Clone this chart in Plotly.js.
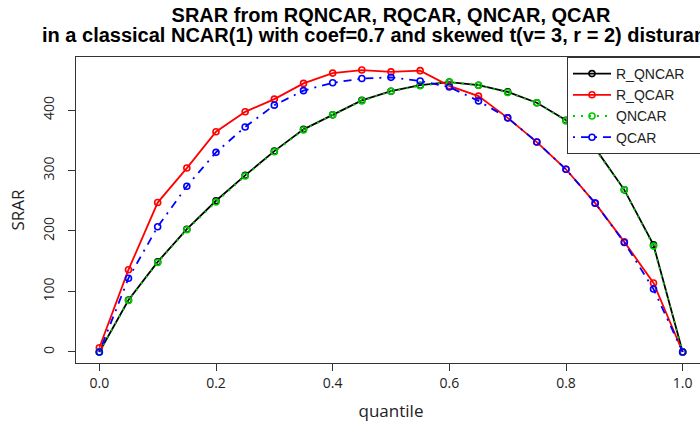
<!DOCTYPE html>
<html>
<head>
<meta charset="utf-8">
<script src="https://cdn.plot.ly/plotly-3.0.1.min.js"></script>
<style>
  html, body { margin: 0; padding: 0; background: #ffffff; overflow: hidden; }
  #chart { width: 770px; height: 423px; }
</style>
</head>
<body>
<div id="chart"></div>
<script>
// Quantile levels at which the SRAR of each estimator is evaluated
const quantile = [0, 0.05, 0.1, 0.15, 0.2, 0.25, 0.3, 0.35, 0.4, 0.45, 0.5,
                  0.55, 0.6, 0.65, 0.7, 0.75, 0.8, 0.85, 0.9, 0.95, 1];

// SRAR per estimator
const srarRQNCAR = [0, 86, 149, 203, 250, 292, 332, 368, 392, 416, 431,
                    441, 446, 441, 430, 412, 383, 337, 268, 177, 0];
const srarRQCAR  = [7, 136, 247, 304, 364, 397, 418, 444, 461, 466, 463,
                    465, 440, 423, 387, 347, 302, 246, 182, 114, 0];
const srarQNCAR  = [0, 85, 148, 202, 248, 291, 331, 367, 392, 415, 431,
                    440, 446, 441, 429, 412, 382, 335, 268, 175, 0];
const srarQCAR   = [0, 122, 207, 274, 330, 372, 408, 432, 445, 452, 454,
                    448, 438, 415, 387, 347, 302, 246, 181, 104, 0];

const seriesNames = ['R_QNCAR', 'R_QCAR', 'QNCAR', 'QCAR'];

// Two-line main title (second line runs past the right edge of the page)
const titleMain = 'SRAR from RQNCAR, RQCAR, QNCAR, QCAR';
const titleSub = 'in a classical NCAR(1) with coef=0.7 and skewed t(v= 3, r = 2) disturances';

// Trailing no-break spaces widen the legend box so it runs past the page edge
const legendPad = '\u00a0'.repeat(6);

function series(name, y, color, dash) {
  return {
    type: 'scatter',
    mode: 'lines+markers',
    name: name + legendPad,
    x: quantile,
    y: y,
    line: { color: color, width: 1.8, dash: dash },
    marker: { symbol: 'circle-open', size: 6, color: color, line: { color: color, width: 1.6 } }
  };
}

const traces = [
  series(seriesNames[0], srarRQNCAR, '#000000', 'solid'),
  series(seriesNames[1], srarRQCAR, '#ff0000', 'solid'),
  series(seriesNames[2], srarQNCAR, '#00cd00', '2px,6px'),
  series(seriesNames[3], srarQCAR, '#0000ff', '2px,6px,8px,6px')
];

const tickFont = { family: 'Open Sans, Liberation Sans, sans-serif', size: 14, color: '#222222' };
const axisTitleFont = { family: 'Open Sans, Liberation Sans, sans-serif', size: 17, color: '#222222' };
const titleFont = { family: 'Liberation Sans, Arial, sans-serif', size: 20, color: '#000000', weight: 'bold' };

// The figure is wider than the page: the plot frame ends at x = 706 and
// everything right of 700 px is clipped by the page.
const layout = {
  width: 770,
  height: 423,
  paper_bgcolor: '#ffffff',
  plot_bgcolor: '#ffffff',
  margin: { l: 76, r: 64, t: 57, b: 60 },
  showlegend: true,
  title: {
    text: titleMain,
    x: 0.5,
    xref: 'paper',
    xanchor: 'center',
    y: 1 - 15 / 423,
    yref: 'container',
    yanchor: 'middle',
    font: titleFont
  },
  annotations: [{
    text: titleSub,
    xref: 'paper',
    x: 0.5,
    xanchor: 'center',
    yref: 'paper',
    y: 1 + (57 - 35) / 306,
    yanchor: 'middle',
    showarrow: false,
    font: titleFont
  }],
  xaxis: {
    range: [-0.04, 1.04],
    tickvals: [0, 0.2, 0.4, 0.6, 0.8, 1],
    ticktext: ['0.0', '0.2', '0.4', '0.6', '0.8', '1.0'],
    ticks: 'outside',
    ticklen: 7,
    tickcolor: '#333333',
    tickfont: tickFont,
    showgrid: false,
    zeroline: false,
    showline: true,
    mirror: true,
    linecolor: '#333333',
    linewidth: 1,
    title: { text: 'quantile', font: axisTitleFont, standoff: 14 }
  },
  yaxis: {
    range: [-18.2, 487.6],
    tickvals: [0, 100, 200, 300, 400],
    ticks: 'outside',
    ticklen: 7,
    tickcolor: '#333333',
    tickangle: -90,
    ticklabelstandoff: 8,
    tickfont: tickFont,
    showgrid: false,
    zeroline: false,
    showline: true,
    mirror: true,
    linecolor: '#333333',
    linewidth: 1,
    title: { text: 'SRAR', font: axisTitleFont, standoff: 10 }
  },
  legend: {
    x: (567 - 76) / 630,
    xanchor: 'left',
    y: 1,
    yanchor: 'top',
    bgcolor: '#ffffff',
    bordercolor: '#333333',
    borderwidth: 1,
    itemwidth: 38,
    tracegroupgap: 0,
    font: { family: 'Liberation Sans, Arial, sans-serif', size: 14, color: '#222222' }
  }
};

Plotly.newPlot('chart', traces, layout, { staticPlot: true, displayModeBar: false });
</script>
</body>
</html>
